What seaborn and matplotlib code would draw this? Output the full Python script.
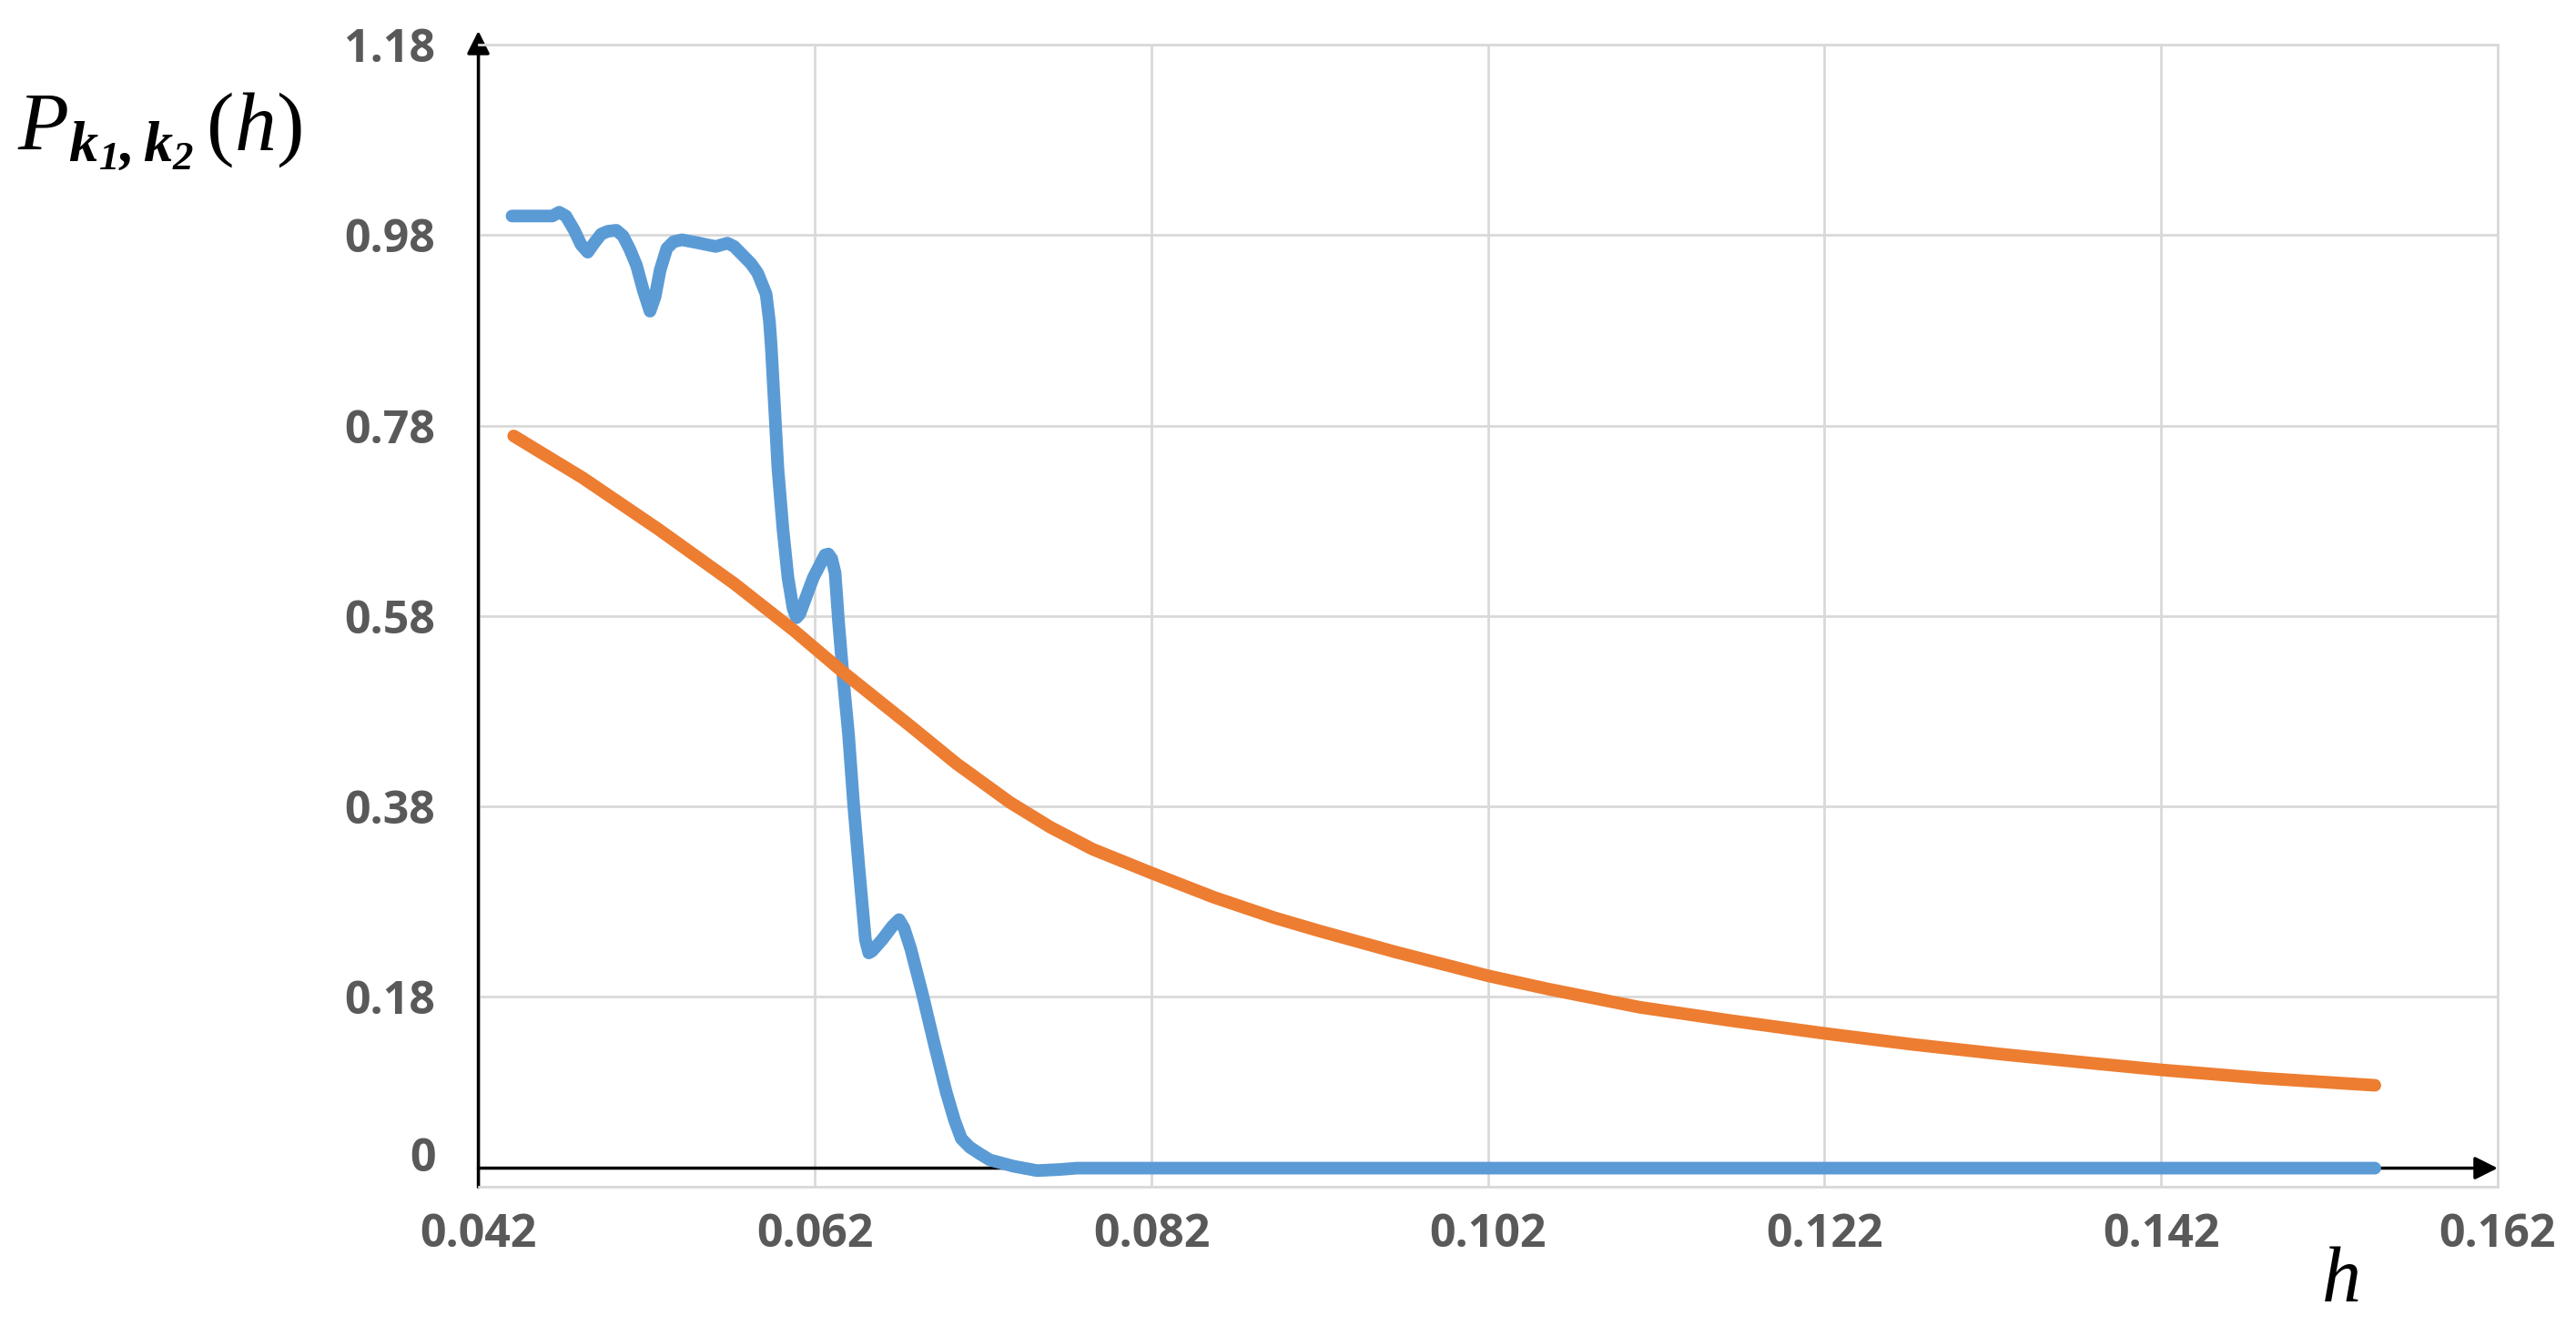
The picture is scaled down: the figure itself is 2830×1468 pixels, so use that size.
import pandas as pd
import seaborn as sns
import matplotlib.pyplot as plt
from matplotlib.transforms import ScaledTranslation

# blue series
h_blue = [0.0440, 0.0464, 0.0468, 0.0472, 0.0477, 0.0481, 0.0485, 0.0489, 0.0493, 0.0497,
          0.0502, 0.0506, 0.0510, 0.0514, 0.0518, 0.0522, 0.0525, 0.0528, 0.0532, 0.0536,
          0.0541, 0.0550, 0.0561, 0.0568, 0.0572, 0.0577, 0.0582, 0.0586, 0.0591, 0.0593,
          0.0594, 0.0596, 0.0598, 0.0601, 0.0604, 0.0607, 0.0609, 0.0611, 0.0619, 0.0626,
          0.0628, 0.0630, 0.0632, 0.0634, 0.0637, 0.0640, 0.0643, 0.0646, 0.0650, 0.0652,
          0.0654, 0.0660, 0.0666, 0.0670, 0.0673, 0.0677, 0.0684, 0.0691, 0.0698, 0.0703,
          0.0707, 0.0712, 0.0718, 0.0724, 0.0738, 0.0752, 0.0765, 0.0776, 0.1000, 0.1300,
          0.1547]
p_blue = [1.000, 1.000, 1.004, 1.000, 0.985, 0.970, 0.962, 0.972, 0.981, 0.984,
          0.985, 0.979, 0.965, 0.948, 0.922, 0.900, 0.915, 0.943, 0.966, 0.973,
          0.975, 0.972, 0.968, 0.9715, 0.968, 0.959, 0.950, 0.940, 0.918, 0.889,
          0.864, 0.800, 0.735, 0.671, 0.620, 0.588, 0.578, 0.582, 0.620, 0.644,
          0.645, 0.640, 0.625, 0.575, 0.511, 0.455, 0.382, 0.319, 0.240, 0.226,
          0.228, 0.240, 0.254, 0.261, 0.252, 0.230, 0.182, 0.130, 0.080, 0.050,
          0.031, 0.022, 0.015, 0.0086, 0.002, -0.0026, -0.0015, 0.0, 0.0, 0.0,
          0.0]

# orange series
h_orange = [0.0441, 0.0482, 0.0527, 0.0572, 0.0608, 0.0636, 0.0660, 0.0677, 0.0704, 0.0736,
            0.0760, 0.0785, 0.0820, 0.0857, 0.0893, 0.0920, 0.0965, 0.1020, 0.1056, 0.1110,
            0.1164, 0.1220, 0.1272, 0.1326, 0.1380, 0.1420, 0.1480, 0.1547]
p_orange = [0.769, 0.725, 0.671, 0.614, 0.564, 0.522, 0.488, 0.464, 0.425, 0.384,
            0.358, 0.335, 0.310, 0.2845, 0.263, 0.249, 0.227, 0.202, 0.188, 0.169,
            0.155, 0.1415, 0.130, 0.1195, 0.110, 0.1032, 0.0945, 0.087]

x_ticks = [0.042, 0.062, 0.082, 0.102, 0.122, 0.142, 0.162]
y_ticks = [-0.02, 0.18, 0.38, 0.58, 0.78, 0.98, 1.18]
y_tick_labels = ["0", "0.18", "0.38", "0.58", "0.78", "0.98", "1.18"]

BLUE = "#5B9BD5"
ORANGE = "#ED7D31"
GRID = "#D9D9D9"
LABEL = "#595959"

sns.set_theme(style="white")
plt.rcParams["font.family"] = ["Open Sans", "DejaVu Sans"]
plt.rcParams["mathtext.fontset"] = "custom"
plt.rcParams["mathtext.rm"] = "Liberation Serif"
plt.rcParams["mathtext.it"] = "Liberation Serif:italic"
plt.rcParams["mathtext.bf"] = "Liberation Serif:italic:bold"

df_blue = pd.DataFrame({"h": h_blue, "P": p_blue})
df_orange = pd.DataFrame({"h": h_orange, "P": p_orange})

fig = plt.figure(figsize=(28.3, 14.68), dpi=100)
ax = fig.add_axes([0.1857, 0.1114, 0.7839, 0.8552])

ax.set_xlim(0.042, 0.162)
ax.set_ylim(-0.02, 1.18)
ax.set_xticks(x_ticks)
ax.set_xticklabels([f"{v:.3f}" for v in x_ticks])
ax.set_yticks(y_ticks)
ax.set_yticklabels(y_tick_labels)
ax.grid(True, color=GRID, lw=2)
ax.set_axisbelow(True)
ax.tick_params(length=0, labelsize=36, labelcolor=LABEL)
ax.tick_params(axis="x", pad=20)
ax.tick_params(axis="y", pad=34)
for lab in ax.get_xticklabels() + ax.get_yticklabels():
    lab.set_fontweight("bold")
# the "0" label sits at the zero line, not at the bottom edge
zero_lab = ax.get_yticklabels()[0]
zero_lab.set_transform(zero_lab.get_transform() + ScaledTranslation(0, 0.36, fig.dpi_scale_trans))

for side in ["top", "right", "bottom"]:
    ax.spines[side].set_color(GRID)
    ax.spines[side].set_linewidth(2)
ax.spines["left"].set_visible(False)

# axis arrows
ax.annotate("", xy=(1.0, 0.0), xytext=(0.0, 0.0),
            xycoords=("axes fraction", "data"), textcoords=("axes fraction", "data"),
            arrowprops=dict(arrowstyle="-|>", color="black", lw=2.5, mutation_scale=38,
                            shrinkA=0, shrinkB=0), zorder=2)
ax.annotate("", xy=(0.0, 1.012), xytext=(0.0, 0.0), xycoords="axes fraction",
            arrowprops=dict(arrowstyle="-|>", color="black", lw=2.5, mutation_scale=38,
                            shrinkA=0, shrinkB=0), annotation_clip=False, zorder=2)

sns.lineplot(data=df_blue, x="h", y="P", color=BLUE, estimator=None, ax=ax, zorder=3)
sns.lineplot(data=df_orange, x="h", y="P", color=ORANGE, estimator=None, ax=ax, zorder=4)
for line in ax.get_lines():
    line.set_linewidth(10)
    line.set_solid_capstyle("round")
    line.set_solid_joinstyle("round")
ax.set_xlabel("")
ax.set_ylabel("")

fig.text(0.062, 0.902, r"$P_{\mathbf{k_1,k_2}}\,(h)$", fontsize=66,
         ha="center", va="center", color="black")
fig.text(0.909, 0.040, "h", fontsize=62, family="Liberation Serif", style="italic",
         ha="center", va="center", color="black")

fig.savefig("out.png", dpi=100)
